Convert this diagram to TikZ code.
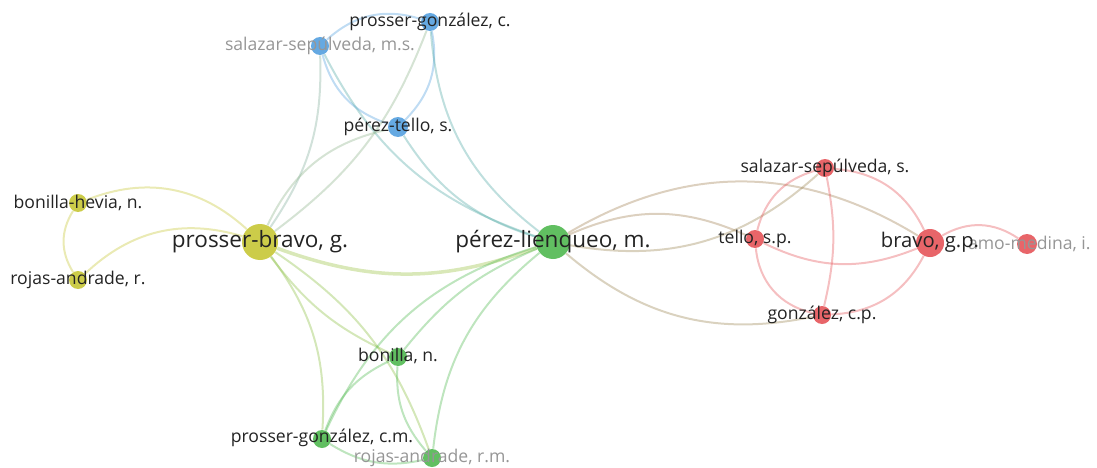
\documentclass[tikz,border=0pt]{standalone}
\usepackage{fontspec}
\setmainfont{Open Sans}

\definecolor{vosred}{RGB}{230,88,92}
\definecolor{vosgreen}{RGB}{84,186,84}
\definecolor{vosblue}{RGB}{88,162,224}
\definecolor{vosyellow}{RGB}{200,200,58}
\definecolor{labeldark}{RGB}{35,35,35}
\definecolor{labelfaded}{RGB}{150,150,150}

\tikzset{every picture/.style={line width=0.75pt}}
\tikzset{
	bubble/.style={circle, inner sep=0pt, draw=none, fill opacity=0.92},
	redbub/.style={bubble, fill=vosred},
	greenbub/.style={bubble, fill=vosgreen},
	bluebub/.style={bubble, fill=vosblue},
	yellowbub/.style={bubble, fill=vosyellow},
	link/.style={line width=2pt, draw opacity=0.38},
	lbl/.style={inner sep=0pt, text=labeldark, font=\fontsize{17.6}{19}\selectfont},
	midlbl/.style={lbl, font=\fontsize{20.2}{22}\selectfont},
	biglbl/.style={lbl, font=\fontsize{22.5}{24}\selectfont},
	fadedlbl/.style={lbl, text=labelfaded}
}

\begin{document}
\begin{tikzpicture}[x=1pt,y=1pt,yscale=-1,xscale=1]
		\useasboundingbox (0,0) rectangle (1097,468);

		% bubbles
		\node [bluebub, minimum size=18] (pgc) at (430,22) {};
		\node [bluebub, minimum size=18] (ssms) at (320,46) {};
		\node [bluebub, minimum size=20] (pts) at (398,127) {};

		\node [yellowbub, minimum size=18] (bhn) at (78,203) {};
		\node [yellowbub, minimum size=18] (rar) at (78,280) {};
		\node [yellowbub, minimum size=36] (pbg) at (260,242) {};

		\node [greenbub, minimum size=34] (plm) at (553,242) {};
		\node [greenbub, minimum size=18] (bn) at (398,357) {};
		\node [greenbub, minimum size=18] (pgcm) at (322,439) {};
		\node [greenbub, minimum size=18] (rarm) at (432,458) {};

		\node [redbub, minimum size=18] (tsp) at (755,239) {};
		\node [redbub, minimum size=18] (sss) at (825,168) {};
		\node [redbub, minimum size=28] (bgp) at (930,243) {};
		\node [redbub, minimum size=18] (gcp) at (822,315) {};
		\node [redbub, minimum size=20] (mmi) at (1027,244) {};

		% links, blue group
		\draw [link, vosblue] (ssms) to[bend right=30] (pgc);
		\draw [link, vosblue] (ssms) to[bend left=28] (pts);
		\draw [link, vosblue] (pgc) to[bend right=28] (pts);
		\draw [link, vosblue!60!vosyellow] (ssms) to[bend right=18] (pbg);
		\draw [link, vosblue!60!vosgreen] (ssms) to[bend left=22] (plm);
		\draw [link, vosblue!60!vosgreen] (pgc) to[bend left=24] (plm);
		\draw [link, vosblue!50!vosyellow] (pgc) to[bend right=16] (pbg);
		\draw [link, vosblue!50!vosyellow] (pts) to[bend left=26] (pbg);
		\draw [link, vosblue!60!vosgreen] (pts) to[bend left=20] (plm);

		% links, yellow group
		\draw [link, vosyellow] (bhn) to[bend left=32] (rar);
		\draw [link, vosyellow] (bhn) to[bend right=32] (pbg);
		\draw [link, vosyellow] (rar) to[bend right=30] (pbg);
		\draw [link, vosyellow!60!vosgreen, line width=3.5pt] (pbg) to[bend left=20] (plm);
		\draw [link, vosyellow!50!vosgreen] (pbg) to[bend left=14] (bn);
		\draw [link, vosyellow!50!vosgreen] (pbg) to[bend right=20] (pgcm);
		\draw [link, vosyellow!50!vosgreen] (pbg) to[bend right=18] (rarm);

		% links, green group
		\draw [link, vosgreen] (plm) to[bend left=24] (pgcm);
		\draw [link, vosgreen] (plm) to[bend left=14] (bn);
		\draw [link, vosgreen] (plm) to[bend left=22] (rarm);
		\draw [link, vosgreen] (bn) to[bend left=22] (pgcm);
		\draw [link, vosgreen] (bn) to[bend left=22] (rarm);
		\draw [link, vosgreen] (pgcm) to[bend left=22] (rarm);

		% links, red group
		\draw [link, vosgreen!45!vosred] (plm) to[bend right=31] (bgp);
		\draw [link, vosgreen!45!vosred] (plm) to[bend right=24] (tsp);
		\draw [link, vosgreen!50!vosred] (plm) to[bend left=26] (sss);
		\draw [link, vosgreen!50!vosred] (plm) to[bend left=26] (gcp);
		\draw [link, vosred] (tsp) to[bend right=30] (sss);
		\draw [link, vosred] (tsp) to[bend left=24] (bgp);
		\draw [link, vosred] (tsp) to[bend left=36] (gcp);
		\draw [link, vosred] (sss) to[bend right=30] (bgp);
		\draw [link, vosred] (sss) to[bend right=12] (gcp);
		\draw [link, vosred] (gcp) to[bend left=30] (bgp);
		\draw [link, vosred] (bgp) to[bend right=32] (mmi);

		% labels
		\node [lbl] (pgc-l) at (430,22) {prosser-gonzález, c.};
		\node [fadedlbl] (ssms-l) at (320,46) {salazar-sepúlveda, m.s.};
		\node [lbl] (pts-l) at (398,127) {pérez-tello, s.};
		\node [lbl] (bhn-l) at (78,203) {bonilla-hevia, n.};
		\node [lbl] (rar-l) at (78,280) {rojas-andrade, r.};
		\node [biglbl] (pbg-l) at (260,242) {prosser-bravo, g.};
		\node [biglbl] (plm-l) at (553,242) {pérez-lienqueo, m.};
		\node [lbl] (bn-l) at (398,356) {bonilla, n.};
		\node [lbl] (pgcm-l) at (322,438) {prosser-gonzález, c.m.};
		\node [fadedlbl] (rarm-l) at (432,458) {rojas-andrade, r.m.};
		\node [lbl] (tsp-l) at (755,239) {tello, s.p.};
		\node [lbl] (sss-l) at (825,168) {salazar-sepúlveda, s.};
		\node [lbl] (gcp-l) at (822,315) {gonzález, c.p.};
		\node [fadedlbl, anchor=east] (mmi-l) at (1091,244) {amo-medina, i.};
		\node [midlbl] (bgp-l) at (930,242) {bravo, g.p.};

\end{tikzpicture}
\end{document}
